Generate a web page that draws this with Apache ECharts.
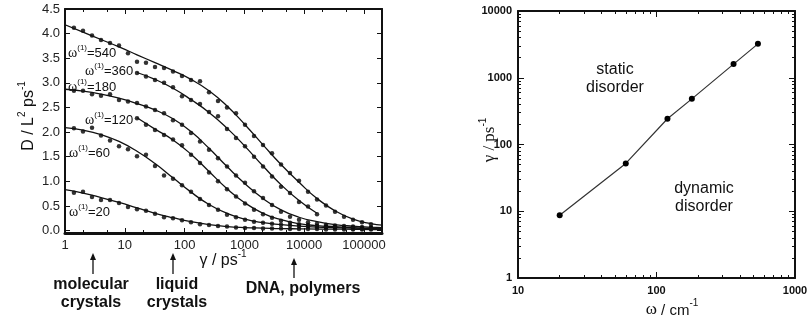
<!DOCTYPE html>
<html><head><meta charset="utf-8">
<script src="https://cdn.jsdelivr.net/npm/echarts@6/dist/echarts.min.js"></script>
<style>html,body{margin:0;padding:0;background:#fff}#c{width:809px;height:325px}</style>
</head><body><div id="c"></div>
<script>
// ---------- Left panel: D vs gamma ----------
const gammaPts = [1.41,2,2.83,4,5.66,8,11.3,16,22.6,32,45.3,64,90.5,128,181,256,362,512,724,1024,1448,2048,2896,4096,5793,8192,11585,16384,23170,32768,46341,65536,92682,131072];
const d540 = [4.12,4.06,3.96,3.87,3.81,3.76,3.60,3.43,3.41,3.32,3.30,3.23,3.14,3.06,3.03,2.81,2.63,2.50,2.38,2.15,1.92,1.74,1.57,1.34,1.17,1.01,0.79,0.63,0.51,0.38,0.28,0.22,0.17,0.13];
const d360 = [null,null,null,null,null,null,null,3.20,3.13,3.06,3.00,2.91,2.73,2.65,2.57,2.41,2.32,2.06,1.88,1.71,1.50,1.30,1.10,0.89,0.76,0.58,0.49,0.33,null,null,null,null,null,null];
const d180 = [2.84,2.84,2.77,2.74,2.77,2.65,2.62,2.59,2.52,2.45,2.38,2.24,2.15,1.98,1.81,1.64,1.47,1.30,1.12,0.97,0.80,0.66,0.52,0.38,0.28,0.22,0.17,0.14,0.12,0.10,0.09,0.08,0.07,0.06];
const d120 = [null,null,null,null,null,null,null,2.28,2.15,2.04,1.94,1.85,1.73,1.54,1.37,1.18,1.00,0.84,0.69,0.55,0.42,0.33,0.26,0.20,0.16,0.13,0.11,0.09,0.08,0.07,0.06,0.06,0.05,0.05];
const d60  = [2.08,2.01,2.09,1.93,1.83,1.71,1.65,1.51,1.54,1.31,1.12,1.05,0.92,0.79,0.64,0.52,0.42,0.32,0.27,0.22,0.18,0.16,0.14,0.12,0.10,0.09,0.08,0.07,0.06,0.05,0.05,0.04,0.04,0.04];
const d20  = [0.77,0.79,0.68,0.62,0.62,0.56,0.48,0.43,0.40,0.34,0.27,0.25,0.21,0.17,0.13,0.11,0.09,0.08,0.06,0.05,0.05,0.04,0.04,0.04,0.03,0.03,0.03,0.03,0.02,0.02,0.02,0.02,0.02,0.02];

const gammaFit = [1,2,4,8,16,32,64,128,256,512,1024,2048,4096,8192,16384,32768,65536,131072,200000];
const fit540 = [4.18,4.03,3.88,3.73,3.57,3.41,3.25,3.07,2.84,2.53,2.15,1.74,1.34,0.98,0.65,0.40,0.23,0.14,0.11];
const fit360 = [null,null,null,null,3.21,3.07,2.89,2.66,2.40,2.08,1.71,1.31,0.93,0.61,0.35,null,null,null,null];
const fit180 = [2.87,2.83,2.77,2.69,2.58,2.45,2.27,2.01,1.67,1.30,0.95,0.65,0.42,0.27,0.18,0.12,0.09,0.07,0.06];
const fit120 = [null,null,null,null,2.29,2.06,1.84,1.55,1.20,0.85,0.56,0.35,0.22,0.14,0.10,0.08,0.06,0.05,0.05];
const fit60  = [2.09,2.04,1.95,1.81,1.61,1.36,1.07,0.78,0.53,0.35,0.23,0.16,0.12,0.09,0.07,0.06,0.05,0.04,0.04];
const fit20  = [0.83,0.76,0.67,0.57,0.46,0.35,0.26,0.18,0.12,0.08,0.06,0.05,0.04,0.035,0.03,0.03,0.025,0.02,0.02];

const seriesLabels = ['540','360','180','120','60','20'];
const leftYTicks = [0,0.5,1,1.5,2,2.5,3,3.5,4,4.5];
const leftXMinor = [2,5,20,50,200,500,2000,5000,20000,50000];

// ---------- Right panel: gamma vs omega ----------
const omegaR = [20,60,120,180,360,540];
const gammaR = [8.7,52,243,483,1600,3220];

const sans = '"Liberation Sans", Arial, sans-serif';
const serif = '"Liberation Serif", "Times New Roman", serif';
const ink = '#111';

function pairs(xs, ys){ const out=[]; xs.forEach((x,i)=>{ if(ys[i]!=null) out.push([x, ys[i]]); }); return out; }

const chart = echarts.init(document.getElementById('c'), null, {renderer:'canvas'});

const noSplit = {show:false};
const hiddenLine = {show:false,onZero:false};
function xAx(grid, pos, min, max, o){
  return Object.assign({type:'log', logBase:10, gridIndex:grid, position:pos, min:min, max:max,
    axisLine:{show:true,onZero:false,lineStyle:{color:ink,width:2}},
    axisTick:{show:true,inside:true,length:5,lineStyle:{color:ink,width:1}},
    axisLabel:{show:false}, splitLine:noSplit, minorSplitLine:noSplit}, o||{});
}
function yAx(grid, type, pos, min, max, o){
  return Object.assign({type:type, gridIndex:grid, position:pos, min:min, max:max,
    axisLine:{show:true,onZero:false,lineStyle:{color:ink,width:2}},
    axisTick:{show:true,inside:true,length:5,lineStyle:{color:ink,width:1}},
    axisLabel:{show:false}, splitLine:noSplit, minorSplitLine:noSplit}, o||{});
}
const minorLeftTick = {show:true,inside:true,length:3,customValues:leftXMinor,lineStyle:{color:ink,width:1}};
const minorRight = {show:true,splitNumber:9,length:3,lineStyle:{color:ink,width:1}};

const xAxes = [
  xAx(0,'bottom',1,200000,{axisLine:{show:true,onZero:false,lineStyle:{color:ink,width:3}},
    axisLabel:{show:true,showMaxLabel:false,fontFamily:sans,fontSize:13,color:'#222',margin:6,
      formatter:v=>String(Math.round(v))}}),
  xAx(0,'top',1,200000),
  xAx(0,'bottom',1,200000,{axisLine:hiddenLine,axisTick:minorLeftTick}),
  xAx(0,'top',1,200000,{axisLine:hiddenLine,axisTick:minorLeftTick}),
  xAx(1,'bottom',10,1000,{axisTick:{show:true,inside:true,length:6,lineStyle:{color:ink,width:1}},
    axisLabel:{show:true,fontFamily:sans,fontWeight:'bold',fontSize:11,color:'#111',margin:7,
      formatter:v=>String(Math.round(v))},
    minorTick:minorRight}),
  xAx(1,'top',10,1000,{axisTick:{show:true,inside:true,length:6,lineStyle:{color:ink,width:1}},minorTick:minorRight})
];
const yAxes = [
  yAx(0,'value','left',-0.05,4.5,{axisTick:{show:true,inside:true,length:5,customValues:leftYTicks,lineStyle:{color:ink,width:1}},
    axisLabel:{show:true,customValues:leftYTicks,fontFamily:sans,fontSize:13,color:'#222',margin:5,formatter:v=>v.toFixed(1)}}),
  yAx(0,'value','right',-0.05,4.5,{axisTick:{show:true,inside:true,length:5,customValues:leftYTicks,lineStyle:{color:ink,width:1}}}),
  yAx(1,'log','left',1,10000,{logBase:10,axisTick:{show:true,inside:true,length:6,lineStyle:{color:ink,width:1}},
    axisLabel:{show:true,fontFamily:sans,fontWeight:'bold',fontSize:11,color:'#111',margin:6,
      formatter:v=>String(Math.round(v))},
    minorTick:minorRight}),
  yAx(1,'log','right',1,10000,{logBase:10,axisTick:{show:true,inside:true,length:6,lineStyle:{color:ink,width:1}},minorTick:minorRight})
];

const ptsSets = [d540,d360,d180,d120,d60,d20];
const fitSets = [fit540,fit360,fit180,fit120,fit60,fit20];
const series = [];
fitSets.forEach((f,i)=>{
  series.push({type:'line', name:'fit'+seriesLabels[i], xAxisIndex:0, yAxisIndex:0, data:pairs(gammaFit,f),
    showSymbol:false, smooth:0.5, lineStyle:{color:'#111',width:1.3}, silent:true});
});
ptsSets.forEach((p,i)=>{
  series.push({type:'scatter', name:'pts'+seriesLabels[i], xAxisIndex:0, yAxisIndex:0, data:pairs(gammaPts,p),
    symbol:'circle', symbolSize:4.5, itemStyle:{color:'#000'}, silent:true});
});
series.push({type:'line', name:'gamma', xAxisIndex:4, yAxisIndex:2, data:pairs(omegaR,gammaR),
  symbol:'circle', symbolSize:6, showAllSymbol:true, lineStyle:{color:'#333',width:1.2}, itemStyle:{color:'#000'}, silent:true});

function richTxt(x,y,text,rich,align,rot){
  const e = {type:'text', x:x, y:y, silent:true, style:{text:text, rich:rich, fill:'#111', textAlign:align||'center', textVerticalAlign:'middle'}};
  if(rot) e.rotation = rot;
  return e;
}
const omegaRich = {
  w:{fontFamily:serif,fontSize:14,fill:'#111',verticalAlign:'bottom',lineHeight:16},
  s:{fontFamily:sans,fontSize:8,fill:'#111',verticalAlign:'top',lineHeight:16},
  a:{fontFamily:sans,fontSize:13,fill:'#111',verticalAlign:'bottom',lineHeight:16}
};
const labelPos = [[68,52],[85,70],[68,86],[85,119],[69,152],[69,211]];
const graphics = [];
seriesLabels.forEach((s,i)=>{
  graphics.push(richTxt(labelPos[i][0],labelPos[i][1],'{w|ω}{s|(1)}{a|='+s+'}',omegaRich,'left'));
});
const titleRich = {
  a:{fontFamily:sans,fontSize:16,fill:'#111',verticalAlign:'bottom',lineHeight:20},
  g:{fontFamily:serif,fontSize:17,fill:'#111',verticalAlign:'bottom',lineHeight:20},
  s:{fontFamily:sans,fontSize:10,fill:'#111',verticalAlign:'top',lineHeight:20}
};
graphics.push(richTxt(27,116,'{a|D / L}{s|2}{a| ps}{s|-1}',titleRich,'center',Math.PI/2));
graphics.push(richTxt(223,259,'{a|γ / ps}{s|-1}',titleRich,'center'));
const titleRich2 = {
  a:{fontFamily:sans,fontSize:15,fill:'#111',verticalAlign:'bottom',lineHeight:20},
  g:{fontFamily:serif,fontSize:17,fill:'#111',verticalAlign:'bottom',lineHeight:20},
  s:{fontFamily:sans,fontSize:10,fill:'#111',verticalAlign:'top',lineHeight:20}
};
graphics.push(richTxt(488,140,'{g|γ / ps}{s|-1}',titleRich2,'center',Math.PI/2));
graphics.push(richTxt(672,308,'{g|ω}{a| / cm}{s|-1}',titleRich2,'center'));
function block(x,y,text,font,lh){
  return {type:'text',x:x,y:y,silent:true,style:{text:text,font:font,fill:'#111',textAlign:'center',textVerticalAlign:'middle',lineHeight:lh}};
}
graphics.push(block(615,79,'static\ndisorder','16px '+sans,18));
graphics.push(block(704,198,'dynamic\ndisorder','16px '+sans,18));
const bold = 'bold 16px '+sans;
graphics.push(block(91,293.5,'molecular\ncrystals',bold,18.5));
graphics.push(block(177,293.5,'liquid\ncrystals',bold,18.5));
graphics.push(block(303,289,'DNA, polymers',bold,18.5));
function arrow(x,y1,y2){
  graphics.push({type:'line',silent:true,shape:{x1:x,y1:y1+5,x2:x,y2:y2},style:{stroke:'#111',lineWidth:1.3}});
  graphics.push({type:'polygon',silent:true,shape:{points:[[x,y1],[x-3,y1+7],[x+3,y1+7]]},style:{fill:'#111'}});
}
arrow(93,253,274);
arrow(173,253,274);
arrow(294,258,278);

chart.setOption({
  animation:false,
  backgroundColor:'#fff',
  grid:[
    {left:65,top:9,width:317,height:224,containLabel:false,outerBoundsMode:'none'},
    {left:518,top:11,width:277,height:267,containLabel:false,outerBoundsMode:'none'}
  ],
  xAxis:xAxes,
  yAxis:yAxes,
  series:series,
  graphic:graphics
});
</script></body></html>
